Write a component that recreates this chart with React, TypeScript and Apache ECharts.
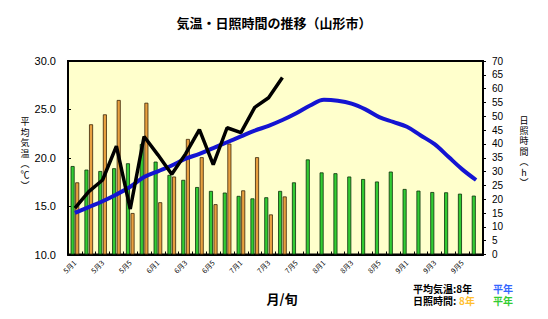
import React, { useEffect, useRef } from "react";
import * as echarts from "echarts";

// Half-month (半旬) periods, May through September
const categories: string[] = [
  "5月1", "5月2", "5月3", "5月4", "5月5", "5月6",
  "6月1", "6月2", "6月3", "6月4", "6月5", "6月6",
  "7月1", "7月2", "7月3", "7月4", "7月5", "7月6",
  "8月1", "8月2", "8月3", "8月4", "8月5", "8月6",
  "9月1", "9月2", "9月3", "9月4", "9月5", "9月6",
];

// Mean temperature (°C): normal year
const tempNormal: number[] = [
  14.3, 14.9, 15.5, 16.2, 17.0, 18.0, 18.6, 19.2, 19.9, 20.4,
  21.0, 21.6, 22.2, 22.8, 23.3, 23.9, 24.6, 25.4, 26.0, 25.9,
  25.6, 25.0, 24.2, 23.7, 23.2, 22.3, 21.4, 20.1, 18.8, 17.7,
];

// Mean temperature (°C): Heisei 8
const temp8: (number | null)[] = [
  14.8, 16.5, 17.7, 21.2, 14.7, 22.2, 20.3, 18.3, 20.4, 22.9,
  19.3, 23.1, 22.6, 25.2, 26.2, 28.3, null, null, null, null,
  null, null, null, null, null, null, null, null, null, null,
];

// Sunshine hours: normal year
const sunNormal: number[] = [
  32.0, 30.7, 30.2, 31.2, 33.0, 40.0, 33.6, 28.8, 27.0, 24.4,
  23.0, 22.4, 21.2, 20.3, 20.7, 23.0, 26.1, 34.4, 29.7, 29.4,
  28.2, 27.3, 26.4, 30.0, 23.7, 23.1, 22.6, 22.5, 22.0, 21.3,
];

// Sunshine hours: Heisei 8
const sun8: (number | null)[] = [
  26.1, 47.1, 50.7, 55.9, 15.0, 54.9, 18.9, 28.2, 41.8, 35.2,
  18.2, 40.1, 23.2, 35.2, 14.5, 21.0, null, null, null, null,
  null, null, null, null, null, null, null, null, null, null,
];

// Vertical axis titles, one glyph per line
const leftAxisTitle: string[] = ["平", "均", "気", "温", "︵", "℃", "︶"];
const rightAxisTitle: string[] = ["日", "照", "時", "間", "︵", "h", "︶"];

const FONT = "'Liberation Sans', 'Noto Sans CJK JP', sans-serif";
const CJK = "'Noto Sans CJK JP', 'Liberation Sans', sans-serif";

function verticalTitle(chars: string[], x: number, y0: number, step: number) {
  return chars.map((ch, i) => ({
    type: "text",
    x,
    y: y0 + i * step,
    style: {
      text: ch,
      font: `9px ${CJK}`,
      lineHeight: 9,
      fill: "#000",
      align: "center",
      verticalAlign: "middle",
    },
  }));
}

function legendText(text: string, x: number, y: number, fill: string) {
  return {
    type: "text",
    x,
    y,
    style: {
      text,
      font: `bold 10px ${CJK}`,
      lineHeight: 10,
      fill,
      verticalAlign: "middle",
    },
  };
}

export default function App() {
  const ref = useRef<HTMLDivElement>(null);

  useEffect(() => {
    if (!ref.current) return;
    const chart = echarts.init(ref.current, undefined, { renderer: "svg" });

    const option: any = {
      animation: false,
      backgroundColor: "#ffffff",
      textStyle: { fontFamily: FONT, color: "#000" },
      title: {
        text: "気温・日照時間の推移（山形市）",
        left: "center",
        top: 11,
        textStyle: { fontFamily: CJK, fontSize: 13, fontWeight: "bold", color: "#000" },
      },
      grid: {
        left: 68,
        right: 65,
        top: 61,
        bottom: 64.5,
        show: true,
        backgroundColor: "#FFFFCC",
        borderColor: "#000",
        borderWidth: 2,
      },
      xAxis: {
        type: "category",
        data: categories,
        boundaryGap: true,
        axisLine: { show: true, lineStyle: { color: "#000", width: 2 } },
        axisTick: { show: true, inside: true, length: 3, interval: 0, lineStyle: { color: "#000" } },
        axisLabel: {
          interval: 1,
          rotate: 45,
          fontSize: 7,
          margin: 7,
          color: "#000",
          fontFamily: CJK,
        },
      },
      yAxis: [
        {
          type: "value",
          min: 10,
          max: 30,
          interval: 5,
          position: "left",
          axisLine: { show: true, lineStyle: { color: "#000", width: 2 } },
          axisTick: { show: true, inside: true, length: 3, lineStyle: { color: "#000" } },
          axisLabel: {
            formatter: (v: number) => v.toFixed(1),
            fontSize: 11,
            margin: 12,
            color: "#000",
          },
          splitLine: { show: false },
        },
        {
          type: "value",
          min: 0,
          max: 70,
          interval: 5,
          position: "right",
          axisLine: { show: true, lineStyle: { color: "#000", width: 2 } },
          axisTick: { show: true, inside: false, length: 3, lineStyle: { color: "#000" } },
          axisLabel: { fontSize: 10, margin: 9, color: "#000" },
          splitLine: { show: false },
        },
      ],
      series: [
        {
          name: "日照時間 平年",
          type: "bar",
          yAxisIndex: 1,
          data: sunNormal,
          barWidth: 4,
          barGap: "15%",
          itemStyle: { color: "#33CC33", borderColor: "#0a300a", borderWidth: 0.8 },
        },
        {
          name: "日照時間 8年",
          type: "bar",
          yAxisIndex: 1,
          data: sun8,
          barWidth: 4,
          barGap: "15%",
          itemStyle: { color: "#E8A040", borderColor: "#3a2508", borderWidth: 0.8 },
        },
        {
          name: "平均気温 平年",
          type: "line",
          yAxisIndex: 0,
          data: tempNormal,
          smooth: 0.35,
          symbol: "none",
          lineStyle: { color: "#1414D2", width: 4 },
          z: 3,
        },
        {
          name: "平均気温 8年",
          type: "line",
          yAxisIndex: 0,
          data: temp8,
          symbol: "none",
          connectNulls: false,
          lineStyle: { color: "#000", width: 3.5 },
          z: 4,
        },
      ],
      graphic: [
        ...verticalTitle(leftAxisTitle, 25, 121.5, 10.6),
        ...verticalTitle(rightAxisTitle, 524, 120, 10.4),
        {
          type: "text",
          x: 282,
          y: 298,
          style: {
            text: "月/旬",
            font: `bold 13px ${CJK}`,
            fill: "#000",
            align: "center",
            verticalAlign: "middle",
          },
        },
        legendText("平均気温:8年", 413, 288, "#000"),
        legendText("平年", 493, 288, "#3366FF"),
        legendText("日照時間:", 413, 300, "#000"),
        legendText("8年", 459, 300, "#FFC030"),
        legendText("平年", 493, 300, "#33CC33"),
      ],
    };

    chart.setOption(option);
    return () => chart.dispose();
  }, []);

  return (
    <div
      ref={ref}
      style={{ position: "absolute", left: 0, top: 0, width: 548, height: 319 }}
    />
  );
}
